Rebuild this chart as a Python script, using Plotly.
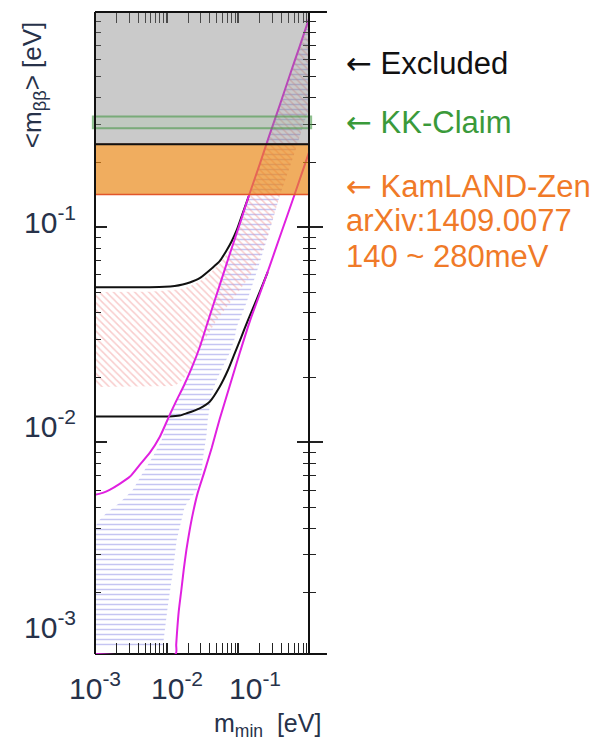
import math
import plotly.graph_objects as go

# ---------------- data ----------------
# axis extents (eV)
X_RANGE = [0.001, 0.966]
Y_RANGE = [0.00104, 1.0]

# major / minor tick positions
X_MAJOR = [0.001, 0.01, 0.1, 1.0]
Y_MAJOR = [0.001, 0.01, 0.1, 1.0]
X_MINOR = [0.002, 0.003, 0.004, 0.005, 0.006, 0.007, 0.008, 0.009,
           0.02, 0.03, 0.04, 0.05, 0.06, 0.07, 0.08, 0.09,
           0.2, 0.3, 0.4, 0.5, 0.6, 0.7, 0.8, 0.9]
Y_MINOR = X_MINOR

# tick labels
X_TICK_TEXT = ["10<sup>-3</sup>", "10<sup>-2</sup>", "10<sup>-1</sup>"]
Y_TICK_TEXT = ["10<sup>-1</sup>", "10<sup>-2</sup>", "10<sup>-3</sup>"]

# normal hierarchy, upper 3-sigma edge (magenta)
nh_upper_x = [0.001, 0.00128, 0.0016, 0.00221, 0.00305, 0.0042, 0.00579, 0.00799,
              0.01066, 0.01335, 0.01727, 0.02233, 0.02886, 0.03731, 0.05485, 0.07563,
              0.1043, 0.1392, 0.1982, 0.2733, 0.3767, 0.5194, 0.7161, 0.987]
nh_upper_y = [0.00571, 0.00583, 0.00602, 0.00642, 0.00692, 0.00787, 0.00894, 0.0106,
              0.0131, 0.0154, 0.0183, 0.0222, 0.0277, 0.0362, 0.0538, 0.0749,
              0.1033, 0.1393, 0.196, 0.270, 0.368, 0.507, 0.692, 0.953]

# normal hierarchy, lower 3-sigma edge (magenta, runs along the floor first)
nh_lower_x = [0.001, 0.01335, 0.01357, 0.01392, 0.01471, 0.01603, 0.01727, 0.01883,
              0.02094, 0.02328, 0.02707, 0.03388, 0.04242, 0.05485, 0.07563, 0.1043,
              0.1447, 0.1982, 0.2733, 0.3767, 0.6098, 0.987]
nh_lower_y = [0.00104, 0.00104, 0.001149, 0.001306, 0.001635, 0.002068, 0.002561, 0.00317,
              0.003926, 0.004709, 0.00583, 0.007374, 0.00943, 0.012853, 0.018284, 0.026025,
              0.036626, 0.048865, 0.065917, 0.089865, 0.14223, 0.22767]

# inverted hierarchy, upper 3-sigma edge (black)
ih_upper_x = [0.001, 0.00305, 0.00579, 0.009408, 0.01293, 0.01672, 0.02094, 0.02886,
              0.04284, 0.05485, 0.06868, 0.08066, 0.09469, 0.1148, 0.1392]
ih_upper_y = [0.05267, 0.05267, 0.05267, 0.05284, 0.05334, 0.0542, 0.05537, 0.058,
              0.06452, 0.06956, 0.07821, 0.0861, 0.09685, 0.1161, 0.1393]

# inverted hierarchy, lower 3-sigma edge (black)
ih_lower_x = [0.001, 0.00579, 0.01087, 0.01518, 0.01901, 0.02886, 0.03978, 0.05485,
              0.07161, 0.08881, 0.1101, 0.1361, 0.1688, 0.2113, 0.2563]
ih_lower_y = [0.0132, 0.0132, 0.0132, 0.01334, 0.01366, 0.01441, 0.01546, 0.01815,
              0.0217, 0.02594, 0.03097, 0.03702, 0.04392, 0.05267, 0.06183]

# best-fit region, normal hierarchy (blue horizontal hatch)
nh_fit_x = [0.001, 0.001, 0.001163, 0.001456, 0.00221, 0.003357, 0.004628, 0.006379,
            0.008516, 0.01066, 0.01335, 0.01727, 0.02233, 0.02886, 0.03731, 0.05485,
            0.07563, 0.1043, 0.1392, 0.1982, 0.2733, 0.3767, 0.5194, 0.7161, 0.987,
            0.987, 0.83, 0.6098, 0.3767, 0.2563, 0.1835, 0.1289, 0.09469, 0.08768,
            0.07563, 0.06039, 0.04982, 0.04242, 0.03978, 0.03731, 0.03613, 0.03388,
            0.03177, 0.03076, 0.0262, 0.01782, 0.01379, 0.01212, 0.01033, 0.009082, 0.008794]
nh_fit_y = [0.001137, 0.004052, 0.00437, 0.004709, 0.00524, 0.00602, 0.007218, 0.008564,
            0.010271, 0.0131, 0.0154, 0.0183, 0.0222, 0.0277, 0.0362, 0.0538,
            0.0749, 0.1033, 0.1393, 0.196, 0.270, 0.368, 0.507, 0.692, 0.953,
            0.36031, 0.3074, 0.22233, 0.13927, 0.089865, 0.0631, 0.044392, 0.034356, 0.029888,
            0.026025, 0.022406, 0.019498, 0.016972, 0.014615, 0.012719, 0.011068, 0.00953,
            0.008293, 0.007218, 0.00602, 0.00502, 0.003532, 0.00248, 0.001725, 0.001212, 0.001137]

# best-fit region, inverted hierarchy (red diagonal hatch)
ih_fit_x = [0.001, 0.001, 0.00579, 0.01213, 0.01782, 0.02457, 0.03388, 0.04284,
            0.05485, 0.06868, 0.08768, 0.09777, 0.1148, 0.1392, 0.1982, 0.2733,
            0.3767, 0.5194, 0.7161, 0.987, 0.987, 0.83, 0.6098, 0.3767, 0.2563,
            0.1835, 0.1447, 0.1043, 0.07563, 0.04982, 0.03613, 0.02707, 0.02094,
            0.01672, 0.01293]
ih_fit_y = [0.01809, 0.049941, 0.050206, 0.051024, 0.05212, 0.054405, 0.058, 0.062492,
            0.068076, 0.074946, 0.084279, 0.095809, 0.11369, 0.13628, 0.196, 0.270,
            0.368, 0.507, 0.692, 0.953, 0.36031, 0.3074, 0.22233, 0.13927, 0.090824,
            0.068818, 0.059238, 0.051024, 0.044392, 0.03702, 0.03097, 0.026025, 0.0217,
            0.019498, 0.018284]

# horizontal bands (eV)
KAMLAND_BAND = [0.142, 0.243]
KK_BAND = [0.288, 0.327]
EXCLUDED_BAND = [0.243, 1.0]

# right-hand notes
ARROW = '<span style="font-family:DejaVu Sans">←</span> '
NOTES = [ARROW + "Excluded", ARROW + "KK-Claim", ARROW + "KamLAND-Zen",
         "arXiv:1409.0077", "140 ~ 280meV"]
NOTE_COLORS = ["#111111", "#3a9a3a", "#f07a28", "#f07a28", "#f07a28"]

# ---------------- figure ----------------
FONT = "Helvetica Neue, Liberation Sans, Arial, sans-serif"
NAVY = "#27324a"
MAGENTA = "#e020e0"
TICK = "#222222"
L = math.log10

fig = go.Figure()

fig.add_trace(go.Scatter(
    x=nh_fit_x, y=nh_fit_y, mode="none", fill="toself",
    fillcolor="rgba(0,0,0,0)",
    fillpattern=dict(shape="-", fgcolor="#8c8ce6", size=5, solidity=0.3),
    hoverinfo="skip", showlegend=False))
fig.add_trace(go.Scatter(
    x=ih_fit_x, y=ih_fit_y, mode="none", fill="toself",
    fillcolor="rgba(0,0,0,0)",
    fillpattern=dict(shape="\\", fgcolor="#f29a9a", size=5, solidity=0.3),
    hoverinfo="skip", showlegend=False))

for xs, ys, col in [(ih_upper_x, ih_upper_y, "#111111"),
                    (ih_lower_x, ih_lower_y, "#111111"),
                    (nh_upper_x, nh_upper_y, MAGENTA),
                    (nh_lower_x, nh_lower_y, MAGENTA)]:
    fig.add_trace(go.Scatter(x=xs, y=ys, mode="lines",
                             line=dict(color=col, width=2, shape="spline", smoothing=0.6),
                             hoverinfo="skip", showlegend=False))

# carrier trace for the right-hand (outside ticks) axis
fig.add_trace(go.Scatter(x=nh_upper_x[:1], y=nh_upper_y[:1], mode="lines",
                         yaxis="y2", hoverinfo="skip", showlegend=False))

# shapes on log axes take data values
shapes = [
    dict(type="line", xref="paper", yref="paper", x0=0, x1=1.084, y0=0, y1=0,
         line=dict(color="#111111", width=2), layer="below"),
    dict(type="rect", xref="paper", yref="y", x0=0, x1=1,
         y0=KAMLAND_BAND[0], y1=KAMLAND_BAND[1],
         fillcolor="rgba(233,134,19,0.68)", line=dict(color="#e2552a", width=1.5),
         layer="above"),
    dict(type="rect", xref="paper", yref="y", x0=0, x1=1,
         y0=EXCLUDED_BAND[0], y1=EXCLUDED_BAND[1],
         fillcolor="rgba(128,128,128,0.42)", line=dict(color="#111111", width=2),
         layer="above"),
    dict(type="rect", xref="paper", yref="y", x0=-0.01, x1=1.01,
         y0=KK_BAND[0], y1=KK_BAND[1],
         fillcolor="rgba(130,200,130,0.12)", line=dict(color="rgba(70,150,70,0.6)", width=2),
         layer="above"),
    dict(type="line", xref="paper", yref="paper", x0=0, x1=0, y0=0, y1=1,
         line=dict(color="#111111", width=2), layer="above"),
    dict(type="line", xref="paper", yref="paper", x0=1, x1=1, y0=0, y1=1,
         line=dict(color="#111111", width=2), layer="above"),
    dict(type="line", xref="paper", yref="paper", x0=0, x1=1.084, y0=1, y1=1,
         line=dict(color="#111111", width=2), layer="above"),
]

annotations = []
for txt, yp in zip(Y_TICK_TEXT, [0.676, 0.3575, 0.0452]):
    annotations.append(dict(xref="paper", yref="paper", x=-0.079, y=yp, text=txt,
                            xanchor="right", yanchor="middle", showarrow=False,
                            font=dict(family=FONT, size=30, color=NAVY)))
for txt, xp in zip(X_TICK_TEXT, [0.0, 0.381, 0.748]):
    annotations.append(dict(xref="paper", yref="paper", x=xp, y=-0.05, text=txt,
                            xanchor="center", yanchor="middle", showarrow=False,
                            font=dict(family=FONT, size=30, color=NAVY)))
annotations.append(dict(xref="paper", yref="paper", x=1.066, y=-0.11,
                        text="m<sub>min</sub>  [eV]", xanchor="right", yanchor="middle",
                        showarrow=False, font=dict(family=FONT, size=25, color=NAVY)))
annotations.append(dict(xref="paper", yref="paper", x=-0.29, y=0.886,
                        text="<m<sub>ββ</sub>> [eV]", textangle=-90,
                        xanchor="center", yanchor="middle",
                        showarrow=False, font=dict(family=FONT, size=26, color=NAVY)))
for txt, col, yp in zip(NOTES, NOTE_COLORS, [0.9206, 0.8287, 0.7290, 0.6745, 0.6184]):
    annotations.append(dict(xref="paper", yref="paper", x=1.168, y=yp, text=txt,
                            xanchor="left", yanchor="middle", showarrow=False,
                            borderpad=0,
                            font=dict(family=FONT, size=31, color=col)))

axis_common = dict(type="log", showgrid=False, zeroline=False, showticklabels=False)

fig.update_layout(
    width=612, height=743,
    margin=dict(l=95, r=303, t=12, b=89),
    paper_bgcolor="white", plot_bgcolor="white",
    showlegend=False,
    shapes=shapes, annotations=annotations,
    xaxis=dict(**axis_common, range=[L(X_RANGE[0]), L(X_RANGE[1])],
               tickmode="array", tickvals=X_MAJOR, ticks="inside", ticklen=11,
               tickwidth=1.5, tickcolor=TICK, showline=True, linecolor="rgba(0,0,0,0)",
               mirror="allticks",
               minor=dict(tickmode="array", tickvals=X_MINOR, ticks="inside",
                          ticklen=6, tickwidth=1.2, tickcolor=TICK, showgrid=False)),
    yaxis=dict(**axis_common, range=[L(Y_RANGE[0]), L(Y_RANGE[1])],
               tickmode="array", tickvals=Y_MAJOR, ticks="inside", ticklen=12,
               tickwidth=1.5, tickcolor=TICK, showline=True, linecolor="rgba(0,0,0,0)",
               mirror="allticks",
               minor=dict(tickmode="array", tickvals=Y_MINOR, ticks="inside",
                          ticklen=6, tickwidth=1.2, tickcolor=TICK, showgrid=False)),
    yaxis2=dict(**axis_common, range=[L(Y_RANGE[0]), L(Y_RANGE[1])],
                overlaying="y", side="right", anchor="x",
                tickmode="array", tickvals=Y_MAJOR, ticks="outside", ticklen=13,
                tickwidth=1.5, tickcolor=TICK, showline=False,
                minor=dict(tickmode="array", tickvals=Y_MINOR, ticks="outside",
                           ticklen=6, tickwidth=1.2, tickcolor=TICK, showgrid=False)),
)

fig.write_html("out.html", config={"displayModeBar": False},
               post_script="document.body.style.margin='0';document.body.style.padding='0';")
